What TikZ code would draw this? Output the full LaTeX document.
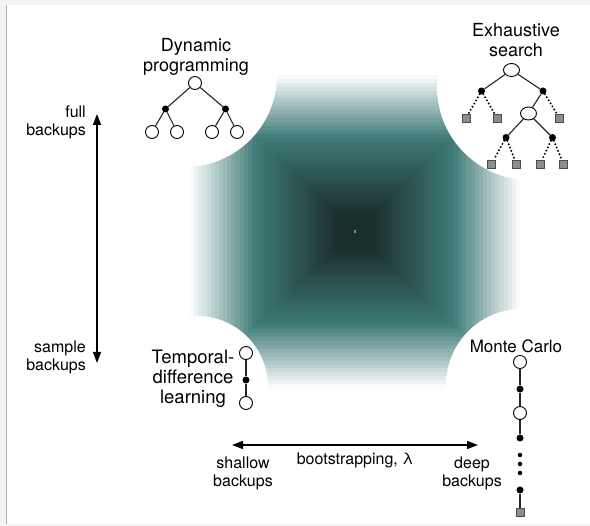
\documentclass[tikz,border=0pt]{standalone}
\usepackage{fontspec}
\setmainfont{TeX Gyre Heros}
\usetikzlibrary{arrows.meta,shapes.geometric}
\definecolor{dk}{RGB}{26,46,44}
\definecolor{tl}{RGB}{63,123,119}
\definecolor{bgg}{RGB}{244,244,244}
\definecolor{sqg}{RGB}{140,140,140}
\begin{document}
\begin{tikzpicture}[x=1pt,y=-1pt,
 oc/.style={circle,draw=black,fill=white,line width=0.9pt,minimum size=13pt,inner sep=0pt},
 oe/.style={ellipse,draw=black,fill=white,line width=0.9pt,minimum width=16pt,minimum height=13pt,inner sep=0pt},
 fd/.style={circle,fill=black,minimum size=7pt,inner sep=0pt},
 sm/.style={circle,fill=black,minimum size=4.5pt,inner sep=0pt},
 sq/.style={rectangle,draw=black!70,fill=sqg,line width=0.8pt,minimum size=8pt,inner sep=0pt},
 tedge/.style={draw=black!85,line width=1.1pt},
 dedge/.style={draw=black,line width=2.2pt,line cap=round,dash pattern=on 0pt off 3.6pt},
 mlbl/.style={align=center,font=\fontsize{18}{19.5}\selectfont,inner sep=0pt},
 albl/.style={align=right,font=\fontsize{16}{18}\selectfont,inner sep=0pt},
 clbl/.style={align=center,font=\fontsize{16}{18}\selectfont,inner sep=0pt},
 arr/.style={line width=1.5pt,{Triangle[length=11pt,width=8pt]}-{Triangle[length=11pt,width=8pt]}}
]
\useasboundingbox (0,0) rectangle (590,526);
\fill[bgg] (0,0) rectangle (590,526);
\fill[white] (6.5,5) rectangle (590,524.5);
\draw[black!30,line width=0.8pt] (6.5,5) -- (6.5,524.5);

% gradient square
\def\cx{355}\def\cy{231.5}\def\hw{165}\def\hh{156.5}
\foreach \i in {40,39,...,1}{
  \pgfmathsetmacro\t{(\i-0.5)/40}
  \pgfmathsetmacro\pa{min(100,max(0,(\t-0.1)/0.5*100))}
  \pgfmathsetmacro\pb{min(100,max(0,(\t-0.6)/0.4*100))}
  \colorlet{cA}{tl!\pa!dk}
  \colorlet{cB}{white!\pb!cA}
  \fill[cB] ({\cx-\hw*\i/40},{\cy-\hh*\i/40}) rectangle ({\cx+\hw*\i/40},{\cy+\hh*\i/40});
}
\fill[tl!80!white] (353.8,230.3) rectangle (356.2,232.7);
\begin{scope}
\clip (190,75) rectangle (520,388);
\fill[white] (185,75) circle[radius=92];
\fill[white] (530,87) circle[radius=93];
\fill[white] (197,387) circle[radius=71];
\fill[white] (522,385) circle[radius=76];
\end{scope}

% Dynamic programming
\node[mlbl] (dp) at (196,57) {Dynamic\\programming};
\node[oc] (dr) at (195,83) {};
\node[fd] (d1) at (165.5,109) {};
\node[fd] (d2) at (225.5,109) {};
\node[oc] (d11) at (152,132) {};
\node[oc] (d12) at (177,132) {};
\node[oc] (d21) at (212,132) {};
\node[oc] (d22) at (237,132) {};
\draw[tedge] (dr) -- (d1) (dr) -- (d2) (d1) -- (d11) (d1) -- (d12) (d2) -- (d21) (d2) -- (d22);

% Exhaustive search
\node[mlbl] (es) at (516,40) {Exhaustive\\search};
\node[oe] (er) at (511.5,70) {};
\node[fd] (e1) at (481.5,91) {};
\node[fd] (e2) at (543,91) {};
\node[sq] (e11) at (466,118) {};
\node[sq] (e12) at (497,118) {};
\node[oe] (em) at (528.5,113.5) {};
\node[sq] (e22) at (559.5,118) {};
\node[fd] (e3) at (506,137.5) {};
\node[fd] (e4) at (552.5,137.5) {};
\node[sq] (e31) at (491.5,164) {};
\node[sq] (e32) at (516.5,164) {};
\node[sq] (e41) at (540,164) {};
\node[sq] (e42) at (563.5,164) {};
\draw[tedge] (er) -- (e1) (er) -- (e2) (e2) -- (em) (em) -- (e3) (em) -- (e4);
\draw[dedge] (e1) -- (e11) (e1) -- (e12) (e2) -- (e22) (e3) -- (e31) (e3) -- (e32) (e4) -- (e41) (e4) -- (e42);

% Temporal-difference
\node[mlbl,font=\fontsize{18.5}{20}\selectfont] (td) at (193,379) {Temporal-\\difference\\learning};
\node[oc] (t1) at (246,353) {};
\node[fd] (t2) at (246,380) {};
\node[oc] (t3) at (246,403) {};
\draw[tedge] (t1) -- (t2) (t2) -- (t3);

% Monte Carlo
\node[mlbl,font=\fontsize{17}{19}\selectfont] (mc) at (516,346) {Monte Carlo};
\node[oc] (m1) at (520,362) {};
\node[fd] (m2) at (520,389) {};
\node[oc] (m3) at (520,413) {};
\node[fd] (m4) at (520,438) {};
\node[sm] (m5) at (520,455) {};
\node[sm] (m6) at (520,464) {};
\node[sm] (m7) at (520,473) {};
\node[fd] (m8) at (520,490) {};
\node[sq] (m9) at (520,512) {};
\draw[tedge] (m1) -- (m2) (m2) -- (m3) (m3) -- (m4) (m8) -- (m9);

% axes
\coordinate (vt) at (97,114);
\coordinate (vb) at (97,363);
\draw[arr] (vt) -- (vb);
\node[albl,anchor=east] (fb) at (86,122) {full\\backups};
\node[albl,anchor=east] (sb) at (86,357) {sample\\backups};
\coordinate (hl) at (232,445);
\coordinate (hr) at (478,445);
\draw[arr] (hl) -- (hr);
\node[clbl] (shb) at (243,473) {shallow\\backups};
\node[clbl] (bs) at (355,460) {bootstrapping, λ};
\node[clbl] (dpb) at (472,473) {deep\\backups};
\end{tikzpicture}
\end{document}
